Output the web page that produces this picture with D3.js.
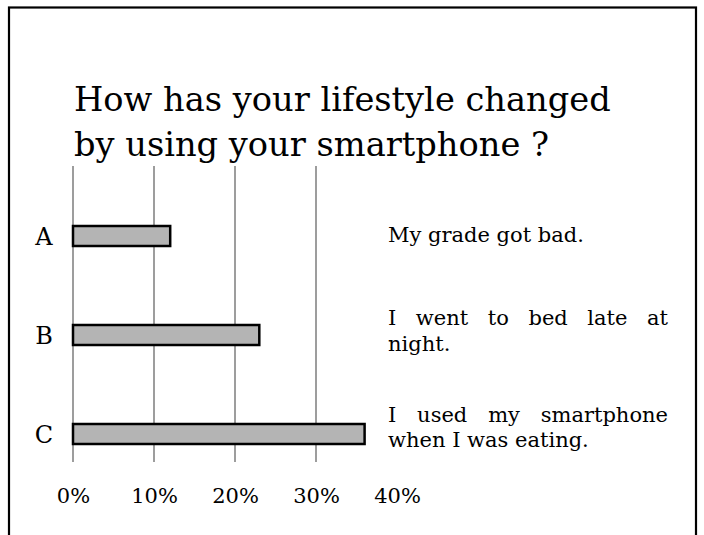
<!DOCTYPE html>
<html>
<head>
<meta charset="utf-8">
<script src="https://cdn.jsdelivr.net/npm/d3@7"></script>
<style>
  html, body { margin: 0; padding: 0; background: #fff; }
  svg { display: block; }
  text { font-family: "DejaVu Serif", "Liberation Serif", serif; fill: #000; }
</style>
</head>
<body>
<script>
// ---- data ----
const categories = ["A", "B", "C"];
const values = [12, 23, 36];               // percent
const tickValues = [0, 10, 20, 30, 40];
const tickLabels = ["0%", "10%", "20%", "30%", "40%"];
const gridValues = [0, 10, 20, 30];
const titleLines = ["How has your lifestyle changed", "by using your smartphone ?"];
const descriptions = [
  ["My grade got bad."],
  ["I went to bed late at", "night."],
  ["I used my smartphone", "when I was eating."]
];

const W = 704, H = 535;
const svg = d3.select("body").append("svg").attr("width", W).attr("height", H);

// frame
svg.append("rect").attr("x", 9).attr("y", 7.5).attr("width", 687).attr("height", H + 10)
  .attr("fill", "none").attr("stroke", "#000").attr("stroke-width", 2.2);

// title
const title = svg.append("g");
const tl = title.selectAll("text").data(titleLines).enter().append("text")
  .attr("x", 74).attr("y", (d, i) => 111 + i * 45)
  .style("font-size", "34px").text(d => d);
// fit width of first line
const w0 = tl.nodes()[0].getComputedTextLength();
const fs = 34 * 537 / w0;
tl.style("font-size", fs + "px");

// scales
const x = d3.scaleLinear().domain([0, 10]).range([73, 154]);
const y = d3.scalePoint().domain(categories).range([236, 434]);
const barH = 20;

// grid
svg.append("g").selectAll("line").data(gridValues).enter().append("line")
  .attr("x1", d => x(d)).attr("x2", d => x(d))
  .attr("y1", 166).attr("y2", 462)
  .attr("stroke", "#858585").attr("stroke-width", 1.6);

// bars
svg.append("g").selectAll("rect").data(values).enter().append("rect")
  .attr("x", x(0))
  .attr("y", (d, i) => y(categories[i]) - barH / 2)
  .attr("width", d => x(d) - x(0))
  .attr("height", barH)
  .attr("fill", "#b4b4b4").attr("stroke", "#000").attr("stroke-width", 2.5);

// category labels
svg.append("g").selectAll("text").data(categories).enter().append("text")
  .attr("x", 44).attr("y", d => y(d) + 9)
  .attr("text-anchor", "middle").style("font-size", "24px").text(d => d);

// tick labels
const xAxis = d3.axisBottom(x).tickValues(tickValues).tickFormat((d, i) => tickLabels[i]).tickSize(0);
const ax = svg.append("g").attr("transform", "translate(0,503)").call(xAxis);
ax.select(".domain").remove();
ax.selectAll("text").attr("dy", 0).attr("y", 0)
  .style("font-family", '"DejaVu Serif", serif').style("font-size", "21px").attr("fill", "#000");

// descriptions (justified)
const descX = 388, descW = 280, lineH = 25.5;
const firstBase = [242, 325, 421.5];
descriptions.forEach((lines, gi) => {
  lines.forEach((line, li) => {
    const by = firstBase[gi] + li * lineH;
    const isLast = li === lines.length - 1;
    if (isLast) {
      svg.append("text").attr("x", descX).attr("y", by).style("font-size", "21px").text(line);
    } else {
      const words = line.split(" ");
      const g = svg.append("g");
      const ts = g.selectAll("text").data(words).enter().append("text")
        .attr("y", by).style("font-size", "21px").text(d => d);
      const widths = ts.nodes().map(n => n.getComputedTextLength());
      const total = d3.sum(widths);
      const gap = (descW - total) / (words.length - 1);
      let cx = descX;
      ts.attr("x", (d, i) => { const v = cx; cx += widths[i] + gap; return v; });
    }
  });
});
</script>
</body>
</html>
